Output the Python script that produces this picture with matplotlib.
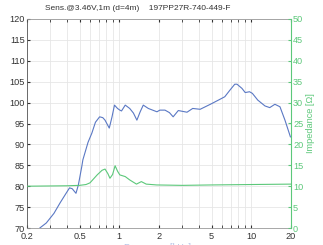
import matplotlib
matplotlib.use("Agg")
import matplotlib.pyplot as plt
from matplotlib.ticker import FixedLocator, NullFormatter

plt.rcParams["font.family"] = ["Liberation Sans", "DejaVu Sans"]

title = "Sens.@3.46V,1m (d=4m)    197PP27R-740-449-F"

spl_freq = [0.2, 0.25, 0.28, 0.32, 0.356, 0.39, 0.42, 0.44, 0.47, 0.49, 0.52, 0.53, 0.58, 0.62, 0.66,
            0.71, 0.75, 0.78, 0.84, 0.88, 0.92, 0.97, 1.01, 1.04, 1.11, 1.2, 1.28, 1.36, 1.44, 1.52,
            1.66, 1.93, 2.03, 2.22, 2.4, 2.56, 2.8, 3.26, 3.6, 4.1, 4.9, 5.8, 6.3, 6.9, 7.5, 7.8,
            8.5, 9.0, 9.7, 10.2, 11.2, 12.7, 13.8, 15.1, 16.5, 18.0, 19.8]
spl_db = [66.0, 70.0, 71.2, 73.5, 76.0, 78.0, 79.6, 79.4, 78.3, 80.3, 84.7, 86.3, 90.5, 92.7, 95.3,
          96.6, 96.4, 95.8, 93.9, 96.5, 99.4, 98.6, 98.2, 98.0, 99.4, 98.6, 97.5, 95.8, 97.8, 99.4,
          98.6, 97.8, 98.2, 98.2, 97.6, 96.6, 98.1, 97.7, 98.6, 98.4, 99.6, 100.8, 101.4, 103.0, 104.4, 104.4,
          103.4, 102.4, 102.6, 102.2, 100.6, 99.2, 98.8, 99.6, 99.0, 95.8, 91.8]

imp_freq = [0.2, 0.4, 0.5, 0.56, 0.6, 0.68, 0.74, 0.78, 0.82, 0.85, 0.89, 0.93, 0.97, 1.01, 1.11,
            1.2, 1.35, 1.47, 1.6, 1.92, 3.0, 5.0, 10.0, 20.0]
imp_ohm = [10.0, 10.1, 10.2, 10.4, 10.8, 12.7, 13.8, 14.1, 13.0, 11.9, 12.8, 14.9, 13.6, 12.7, 12.3,
           11.5, 10.5, 11.1, 10.5, 10.3, 10.2, 10.3, 10.4, 10.5]

x_ticks = [0.2, 0.5, 1, 2, 5, 10, 20]
x_tick_labels = ["0.2", "0.5", "1", "2", "5", "10", "20"]
x_minor = [0.3, 0.4, 0.6, 0.7, 0.8, 0.9, 3, 4, 6, 7, 8, 9]
y_ticks = list(range(70, 121, 5))
y2_ticks = list(range(0, 51, 5))

blue = "#5a78c4"
green = "#5cc87a"
grid_c = "#e6e6e6"
fs = 6.6

fig = plt.figure(figsize=(3.23, 2.45), dpi=100)
ax = fig.add_axes([27/323, 1-228/245, (291-27)/323, (228-19)/245])
ax.set_xscale("log")
ax.set_xlim(0.2, 20)
ax.set_ylim(70, 120)
ax.xaxis.set_major_locator(FixedLocator(x_ticks))
ax.xaxis.set_minor_locator(FixedLocator(x_minor))
ax.set_xticklabels(x_tick_labels)
ax.xaxis.set_minor_formatter(NullFormatter())
ax.set_yticks(y_ticks)
ax.grid(True, which="both", color=grid_c, lw=0.6)
ax.set_axisbelow(True)
ax.tick_params(axis="both", which="both", direction="in", length=2, labelsize=fs,
               pad=1.5, colors="#333333", top=True)
ax.tick_params(axis="x", pad=3)
for s in ["top", "bottom"]:
    ax.spines[s].set_color("#999999")
    ax.spines[s].set_linewidth(0.6)
ax.spines["left"].set_color("#555555")
ax.spines["left"].set_linewidth(0.6)
ax.spines["right"].set_visible(False)

ax2 = ax.twinx()
ax2.set_ylim(0, 50)
ax2.set_yticks(y2_ticks)
ax2.tick_params(axis="y", direction="in", length=2, labelsize=fs, pad=1.5, colors=green)
ax2.spines["right"].set_color(green)
ax2.spines["right"].set_linewidth(0.8)
for s in ["top", "bottom", "left"]:
    ax2.spines[s].set_visible(False)
ax2.set_ylabel("Impedance [Ω]", color=green, fontsize=fs, labelpad=2)

ax2.plot(imp_freq, imp_ohm, color=green, lw=0.8)
ax.plot(spl_freq, spl_db, color=blue, lw=0.8, zorder=5)

fig.text(138/323, 1-9/245, title, ha="center", va="center", fontsize=6.0, color="#333333")
fig.text(158/323, -0.012, "Frequency [kHz]", ha="center", va="center", fontsize=fs, color="#b4c2e6")

fig.savefig("out.png", dpi=100)
